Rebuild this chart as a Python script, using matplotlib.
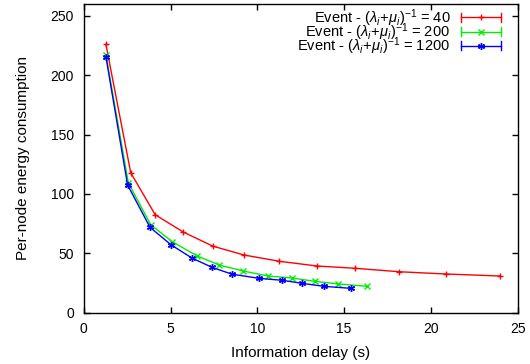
import matplotlib
matplotlib.use("Agg")
import matplotlib.pyplot as plt
from matplotlib.legend_handler import HandlerLine2D
from matplotlib.lines import Line2D

x40 = [1.28, 2.71, 4.12, 5.74, 7.43, 9.23, 11.27, 13.46, 15.65, 18.18, 20.85, 23.98]
y40 = [226, 117.8, 82.5, 67.9, 56.1, 48.6, 43.3, 39.3, 37.4, 34.5, 32.6, 30.9]
x200 = [1.28, 2.57, 3.86, 5.10, 6.51, 7.79, 9.19, 10.63, 12.0, 13.32, 14.67, 16.34]
y200 = [217.2, 109.4, 74.1, 59.8, 48.0, 40.2, 35.1, 30.9, 29.2, 26.4, 24.2, 22.2]
x1200 = [1.28, 2.53, 3.82, 5.03, 6.24, 7.39, 8.53, 10.12, 11.44, 12.59, 13.84, 15.41]
y1200 = [215.5, 107.5, 71.9, 57.2, 46.0, 38.2, 32.5, 28.9, 27.3, 24.7, 22.2, 20.5]

labels = [r'Event - $(\lambda_i\!+\!\mu_i)^{-1}$ = 40',
          r'Event - $(\lambda_i\!+\!\mu_i)^{-1}$ = 200',
          r'Event - $(\lambda_i\!+\!\mu_i)^{-1}$ = 1200']
colors = ['#ff0000', '#00ee00', '#0000ff']
markers = ['+', 'x', (6, 2, 0)]
xticks = [0, 5, 10, 15, 20, 25]
yticks = [0, 50, 100, 150, 200, 250]

plt.rcParams['font.family'] = ['Liberation Sans', 'DejaVu Sans']
plt.rcParams['mathtext.fontset'] = 'custom'
plt.rcParams['mathtext.rm'] = 'Liberation Sans'
plt.rcParams['mathtext.it'] = 'Liberation Sans:italic'

W, H = 530, 364
fig = plt.figure(figsize=(W/100, H/100), dpi=100)
L, R, T, B = 83.7, 517.7, 4, 312.7
ax = fig.add_axes([L/W, 1-B/H, (R-L)/W, (B-T)/H])

handles = []
for xs, ys, c, m, lab in zip([x40, x200, x1200], [y40, y200, y1200], colors, markers, labels):
    h, = ax.plot(xs, ys, color=c, lw=1, marker=m, ms=5, mew=1, label=lab)
    handles.append(h)


class CapHandler(HandlerLine2D):
    def create_artists(self, legend, orig_handle, xdescent, ydescent, width, height, fontsize, trans):
        arts = super().create_artists(legend, orig_handle, xdescent, ydescent, width, height, fontsize, trans)
        y = height / 2 - ydescent
        x0 = -xdescent
        x1 = x0 + width
        c = orig_handle.get_color()
        for xx in (x0, x1):
            cap = Line2D([xx, xx], [y - 3, y + 3], color=c, lw=1, transform=trans)
            arts.append(cap)
        return arts


leg = ax.legend(handles=handles, loc='upper right', bbox_to_anchor=(0.964, 0.995),
                frameon=False, markerfirst=False,
                handler_map={h: CapHandler(numpoints=1) for h in handles},
                fontsize=10.5, handlelength=2.75, labelspacing=-0.52, borderaxespad=0,
                borderpad=0.1, handletextpad=0.7)
for t in leg.get_texts():
    t.set_ha('right')

ax.set_xlim(0, 25)
ax.set_ylim(0, 260)
ax.set_xticks(xticks)
ax.set_yticks(yticks)
ax.tick_params(direction='in', top=True, right=True, labelsize=10, length=4, width=1, pad=7)
ax.set_xlabel('Information delay (s)', fontsize=11, labelpad=7)
ax.set_ylabel('Per-node energy consumption', fontsize=11, labelpad=15)
for s in ax.spines.values():
    s.set_linewidth(1)

fig.savefig('out.png', dpi=100)
